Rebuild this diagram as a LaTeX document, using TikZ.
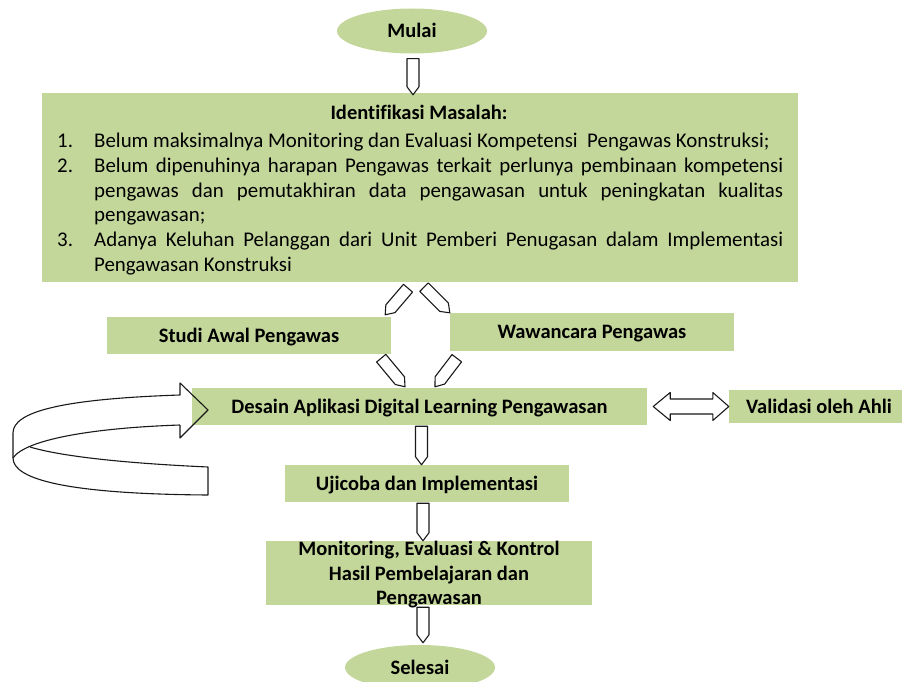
\documentclass[tikz,border=0pt]{standalone}
\usepackage{fontspec}
\setmainfont{Carlito}[Ligatures=NoCommon]
\usetikzlibrary{calc,shapes.geometric}
\definecolor{boxgreen}{RGB}{196,215,155}
\newcommand{\figfont}{\fontsize{20.5pt}{24.7pt}\selectfont}
\newcommand{\listfont}{\fontsize{20.9pt}{24.7pt}\selectfont}

\begin{document}
\begin{tikzpicture}[x=1pt,y=-1pt]
    \tikzset{stage/.style = {fill=boxgreen,inner sep=0pt,font=\figfont\bfseries}}
    \tikzset{onebox/.style = {stage,text height=13pt,text depth=0pt}}
    \tikzset{terminal/.style = {shape=ellipse,fill=boxgreen,minimum width=150pt,minimum height=45pt,inner sep=0pt,font=\figfont\bfseries,text height=13pt,text depth=0pt}}
    \tikzset{barrow/.style = {draw=black!90,line width=1.1pt,line join=round,to path={
        let \p1=(\tikztostart), \p2=(\tikztotarget), \p3=($(\p2)!8pt!(\p1)$) in
        ($(\p1)!6pt!90:(\p2)$) -- ($(\p3)!6pt!90:(\p2)$) -- (\p2) -- ($(\p3)!6pt!-90:(\p2)$) -- ($(\p1)!6pt!-90:(\p2)$) -- cycle}}}
    \tikzset{dbarrow/.style = {draw=black!90,line width=1.1pt,line join=round,to path={
        let \p1=(\tikztostart), \p2=(\tikztotarget), \p3=($(\p1)!17pt!(\p2)$), \p4=($(\p2)!16pt!(\p1)$) in
        (\p1) -- ($(\p3)!14pt!90:(\p2)$) -- ($(\p3)!7.5pt!90:(\p2)$) -- ($(\p4)!7.5pt!90:(\p2)$) -- ($(\p4)!14pt!90:(\p2)$)
        -- (\p2) -- ($(\p4)!14pt!-90:(\p2)$) -- ($(\p4)!7.5pt!-90:(\p2)$) -- ($(\p3)!7.5pt!-90:(\p2)$) -- ($(\p3)!14pt!-90:(\p2)$) -- cycle}}}
    \tikzset{loopline/.style = {draw=black!90,line width=1.1pt,line join=round}}
    \useasboundingbox (0,0) rectangle (902,682);
    % vertices
    \node[terminal] (mulai) at (412,31) {Mulai};
    \node[stage,minimum width=756pt,minimum height=189pt] (idm) at (420,187.5) {};
    \node[font=\figfont\bfseries,anchor=base,inner sep=0pt] (idtitle) at (419,120) {Identifikasi Masalah:};
    \node[font=\listfont,text width=726pt,align=justify,inner sep=0pt,anchor=north west] (idlist) at (57,133) {%
        \noindent\makebox[37pt][l]{1.}Belum maksimalnya Monitoring dan Evaluasi Kompetensi~ Pengawas Konstruksi;\hangindent=37pt\hangafter=1\par
        \noindent\makebox[37pt][l]{2.}Belum dipenuhinya harapan Pengawas terkait perlunya pembinaan kompetensi\linebreak
        pengawas dan pemutakhiran data pengawasan untuk peningkatan kualitas\linebreak
        pengawasan;\hangindent=37pt\hangafter=1\par
        \noindent\makebox[37pt][l]{3.}Adanya Keluhan Pelanggan dari Unit Pemberi Penugasan dalam Implementasi\linebreak
        Pengawasan Konstruksi\hangindent=37pt\hangafter=1\par};
    \node[onebox,minimum width=284pt,minimum height=37pt] (studi) at (249,335.5) {Studi Awal Pengawas};
    \node[onebox,minimum width=284pt,minimum height=38pt] (waw) at (592,332) {Wawancara Pengawas};
    \node[onebox,minimum width=455pt,minimum height=37pt] (desain) at (419.5,406.5) {Desain Aplikasi Digital Learning Pengawasan};
    \node[onebox,minimum width=180pt,minimum height=33pt] (validasi) at (819,406.5) {Validasi oleh Ahli};
    \node[onebox,minimum width=284pt,minimum height=37pt] (ujicoba) at (427,483.5) {Ujicoba dan Implementasi};
    \node[stage,align=center,text depth=0pt,minimum width=326pt,minimum height=64pt] (mon) at (429,573) {Monitoring, Evaluasi \& Kontrol\\Hasil Pembelajaran dan\\Pengawasan};
    \node[terminal] (selesai) at (420,667.5) {Selesai};
    % edges
    \draw[barrow] ($(mulai.south)+(1,5)$) to ($(idm.north)+(-7,2)$);
    \draw[barrow] ($(idm.south)+(-12,6)$) to ($(studi.north east)+(-6,-2)$);
    \draw[barrow] ($(idm.south)+(4,5)$) to (waw.north west);
    \draw[barrow] ($(studi.south east)+(-10,4)$) to ($(desain.north)+(-14.5,-1)$);
    \draw[barrow] ($(waw.south west)+(7,7)$) to ($(desain.north)+(15.5,-1)$);
    \draw[dbarrow] ($(desain.east)+(6,0)$) to (validasi.west);
    \draw[barrow] ($(desain.south)+(2,1)$) to ($(ujicoba.north)+(-5.5,0)$);
    \draw[barrow] ($(ujicoba.south)+(-4,1)$) to ($(mon.north)+(-6,0)$);
    \draw[barrow] ($(mon.south)+(-6,2)$) to ($(selesai.north)+(3,-2)$);
    % loop back
    \draw[loopline] (180,425) -- (180,438) -- (208,410) -- (180,383) -- (180,395)
        .. controls (60,399) and (13,412) .. (13,433) -- (13,458)
        .. controls (13,480) and (70,494) .. (208,495) -- (208,467)
        .. controls (120,463) and (60,456) .. (30,447);
    \draw[loopline] (180,425) .. controls (90,428) and (25,440) .. (13,458);
\end{tikzpicture}
\end{document}
